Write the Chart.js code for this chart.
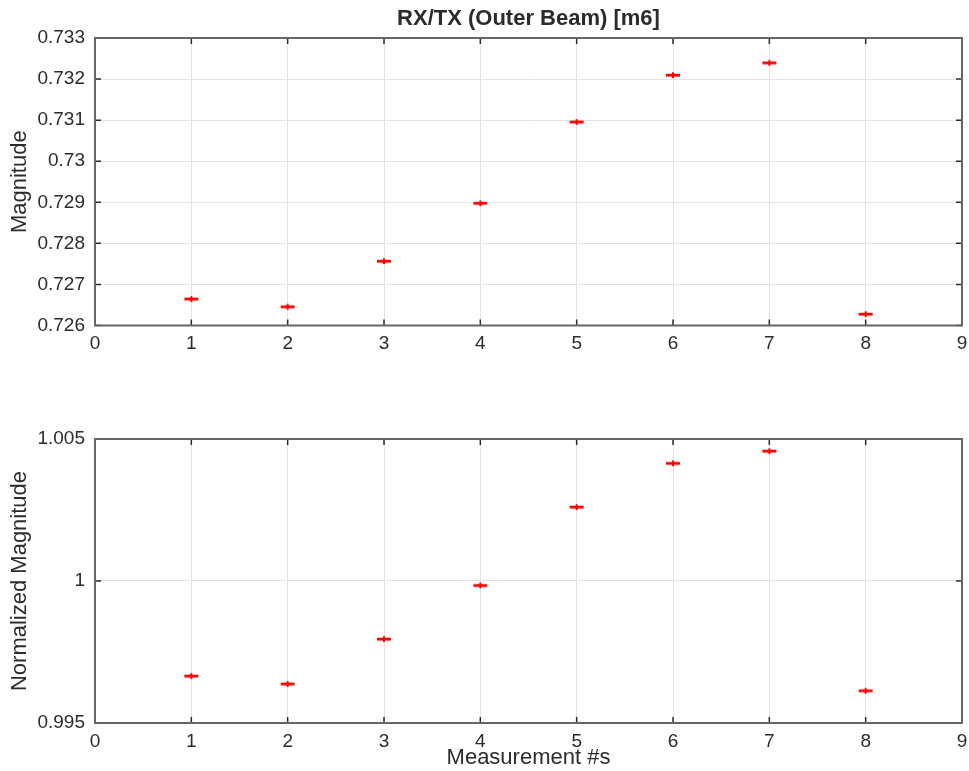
<!DOCTYPE html>
<html>
<head>
<meta charset="utf-8">
<script src="https://cdn.jsdelivr.net/npm/chart.js@4"></script>
<style>
  html, body { margin: 0; padding: 0; background: #fff; }
  #wrap { position: relative; width: 969px; height: 771px; }
  canvas { position: absolute; left: 0; }
</style>
</head>
<body>
<div id="wrap">
  <canvas id="c1" width="969" height="385" style="top:0px"></canvas>
  <canvas id="c2" width="969" height="386" style="top:385px"></canvas>
</div>
<script>
// ---- data ----
const measurements = [1, 2, 3, 4, 5, 6, 7, 8];
const magnitude = [0.72665, 0.72646, 0.72757, 0.72898, 0.73096, 0.73210, 0.73240, 0.72628];
const normalizedMagnitude = [0.99666, 0.99638, 0.99796, 0.99985, 1.00261, 1.00415, 1.00458, 0.99614];
const xTicks = [0, 1, 2, 3, 4, 5, 6, 7, 8, 9];
const yTicksTop = [0.726, 0.727, 0.728, 0.729, 0.730, 0.731, 0.732, 0.733];
const yTicksBottom = [0.995, 1.000, 1.005];
const titleText = 'RX/TX (Outer Beam) [m6]';
const yLabelTop = 'Magnitude';
const yLabelBottom = 'Normalized Magnitude';
const xLabelBottom = 'Measurement #s';

// ---- styling ----
const FONT = '"Liberation Sans", Arial, Helvetica, sans-serif';
const TEXT = '#2b2b2b';
const GRID = '#e3e3e3';

function makeMarker() {
  const c = document.createElement('canvas');
  c.width = 16; c.height = 8;
  const g = c.getContext('2d');
  g.fillStyle = '#ff0000';
  g.fillRect(1, 2.8, 14, 2.8);
  g.fillRect(7, 1.3, 2, 5.8);
  return c;
}
const marker = makeMarker();

const boxPlugin = {
  id: 'boxPlugin',
  afterDraw(chart) {
    const {ctx, chartArea: a, scales} = chart;
    ctx.save();
    const tl = 6;
    ctx.strokeStyle = '#2a2a2a';
    ctx.lineWidth = 1.5;
    ctx.beginPath();
    scales.x.ticks.forEach(t => {
      const px = scales.x.getPixelForValue(t.value);
      ctx.moveTo(px, a.bottom); ctx.lineTo(px, a.bottom - tl);
      ctx.moveTo(px, a.top); ctx.lineTo(px, a.top + tl);
    });
    scales.y.ticks.forEach(t => {
      const py = scales.y.getPixelForValue(t.value);
      ctx.moveTo(a.left, py); ctx.lineTo(a.left + tl, py);
      ctx.moveTo(a.right, py); ctx.lineTo(a.right - tl, py);
    });
    ctx.stroke();
    ctx.strokeStyle = '#666666';
    ctx.lineWidth = 2;
    ctx.strokeRect(a.left, a.top, a.right - a.left, a.bottom - a.top);
    ctx.restore();
  }
};

function fmt(v) { return parseFloat(Number(v).toFixed(6)).toString(); }

function makeChart(id, yValues, yTicks, opts) {
  return new Chart(document.getElementById(id), {
    type: 'scatter',
    data: {
      datasets: [{
        data: measurements.map((m, i) => ({x: m, y: yValues[i]})),
        pointStyle: marker,
        pointRadius: 6,
        pointHoverRadius: 6
      }]
    },
    options: {
      responsive: false,
      animation: false,
      devicePixelRatio: 1,
      layout: { padding: { top: opts.padTop, right: 6, left: 0, bottom: 0 } },
      plugins: {
        legend: { display: false },
        tooltip: { enabled: false },
        title: opts.title ? {
          display: true,
          text: opts.title,
          fullSize: false,
          color: TEXT,
          font: { family: FONT, size: 22, weight: 'bold', lineHeight: 1.2 },
          padding: { top: 5.8, bottom: 5.8 }
        } : { display: false }
      },
      scales: {
        x: {
          type: 'linear',
          min: xTicks[0],
          max: xTicks[xTicks.length - 1],
          afterBuildTicks: s => { s.ticks = xTicks.map(v => ({value: v})); },
          afterFit: s => { s.height = opts.xHeight; s.paddingLeft = 0; s.paddingRight = 0; },
          border: { display: false },
          grid: { color: GRID, lineWidth: 1, drawTicks: false },
          ticks: {
            color: TEXT, padding: 7,
            font: { family: FONT, size: 19 },
            callback: v => fmt(v)
          },
          title: opts.xTitle ? {
            display: true, text: opts.xTitle, color: TEXT,
            font: { family: FONT, size: 22, lineHeight: 1.2 },
            padding: { top: 0, bottom: 0 }
          } : { display: false }
        },
        y: {
          type: 'linear',
          min: yTicks[0],
          max: yTicks[yTicks.length - 1],
          afterBuildTicks: s => { s.ticks = yTicks.map(v => ({value: v})); },
          afterFit: s => { s.width = 95; s.paddingTop = 0; s.paddingBottom = 0; },
          border: { display: false },
          grid: { color: GRID, lineWidth: 1, drawTicks: false },
          ticks: {
            color: TEXT, padding: 10,
            font: { family: FONT, size: 19 },
            callback: v => fmt(v)
          },
          title: {
            display: true, text: opts.yTitle, color: TEXT,
            font: { family: FONT, size: 22, lineHeight: 1.2 },
            padding: { top: 7, bottom: 0 }
          }
        }
      }
    },
    plugins: [boxPlugin]
  });
}

makeChart('c1', magnitude, yTicksTop, {
  title: titleText, padTop: 0, xHeight: 385 - 325.5, yTitle: yLabelTop
});
makeChart('c2', normalizedMagnitude, yTicksBottom, {
  padTop: 54, xHeight: 386 - 338, yTitle: yLabelBottom, xTitle: xLabelBottom
});
</script>
</body>
</html>
